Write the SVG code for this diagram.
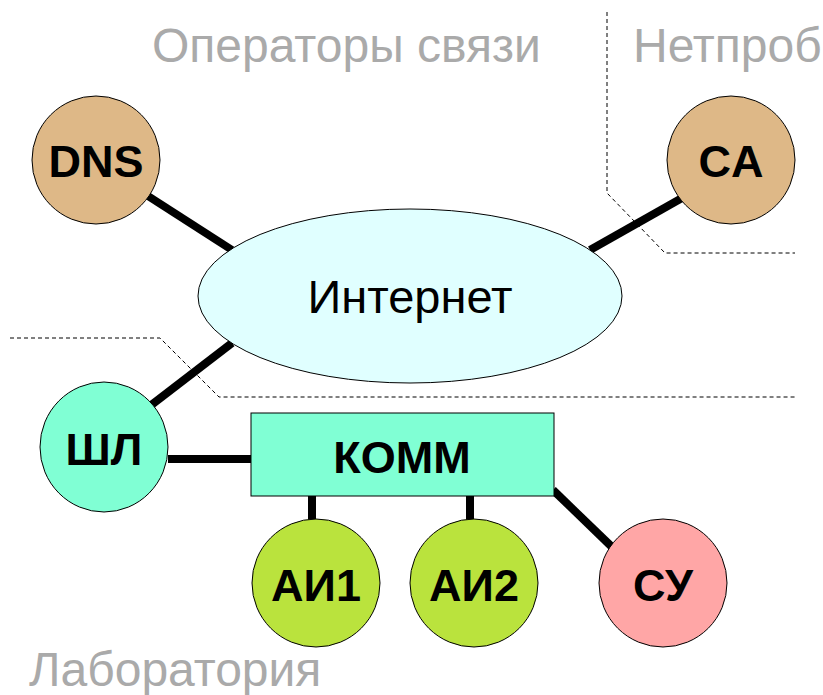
<svg xmlns="http://www.w3.org/2000/svg" width="823" height="695" viewBox="0 0 823 695">
<style>
.zone{font-family:"Liberation Sans",Arial,sans-serif;font-size:48px;fill:#aaaaaa}
.lbl{font-family:"Liberation Sans",Arial,sans-serif;font-size:45px;font-weight:bold;fill:#000;text-anchor:middle}
.net{font-family:"Liberation Sans",Arial,sans-serif;font-size:47px;fill:#000;text-anchor:middle}
.node{stroke:#000;stroke-width:1}
.link{stroke:#000;stroke-width:8;fill:none}
.border{stroke:#000;stroke-width:1;stroke-dasharray:4 3;fill:none}
</style>
<rect width="823" height="695" fill="#fff"/>
<g id="zones">
<text class="zone" x="152" y="62">Операторы связи</text>
<text class="zone" x="633" y="62">Нетпроб</text>
<text class="zone" x="29" y="686">Лаборатория</text>
<path class="border" d="M607,12 L607,193 L665,253 L795,253"/>
<path class="border" d="M10,338 L160,338 L219,397 L797,397"/>
</g>
<g id="connectors">
<line class="link" x1="148" y1="196" x2="232" y2="250"/>
<line class="link" x1="682" y1="198" x2="590" y2="250"/>
<line class="link" x1="232" y1="343" x2="150" y2="406"/>
<line class="link" x1="168" y1="459" x2="251" y2="459"/>
<line class="link" x1="312" y1="496" x2="312" y2="520"/>
<line class="link" x1="470" y1="496" x2="470" y2="520"/>
<line class="link" x1="553" y1="490" x2="612" y2="547"/>
</g>
<g id="internet">
<ellipse class="node" cx="410" cy="296" rx="212" ry="87" fill="#e0ffff"/>
<text class="net" x="410" y="313">Интернет</text>
</g>
<g id="dns">
<ellipse class="node" cx="96" cy="160" rx="64" ry="64" fill="#deb887"/>
<text class="lbl" x="96" y="177">DNS</text>
</g>
<g id="ca">
<ellipse class="node" cx="731" cy="160" rx="64" ry="64" fill="#deb887"/>
<text class="lbl" x="731" y="177">CA</text>
</g>
<g id="shl">
<ellipse class="node" cx="104" cy="447" rx="64" ry="65" fill="#80ffd4"/>
<text class="lbl" x="104" y="465">ШЛ</text>
</g>
<g id="komm">
<rect class="node" x="251" y="413" width="303" height="83" fill="#80ffd4"/>
<text class="lbl" x="402" y="473">КОММ</text>
</g>
<g id="ai1">
<ellipse class="node" cx="316" cy="583" rx="64" ry="64" fill="#bae33d"/>
<text class="lbl" x="316" y="601">АИ1</text>
</g>
<g id="ai2">
<ellipse class="node" cx="474" cy="583" rx="64" ry="64" fill="#bae33d"/>
<text class="lbl" x="474" y="601">АИ2</text>
</g>
<g id="su">
<ellipse class="node" cx="663" cy="583" rx="64" ry="64" fill="#ffa6a6"/>
<text class="lbl" x="663" y="601">СУ</text>
</g>
</svg>
